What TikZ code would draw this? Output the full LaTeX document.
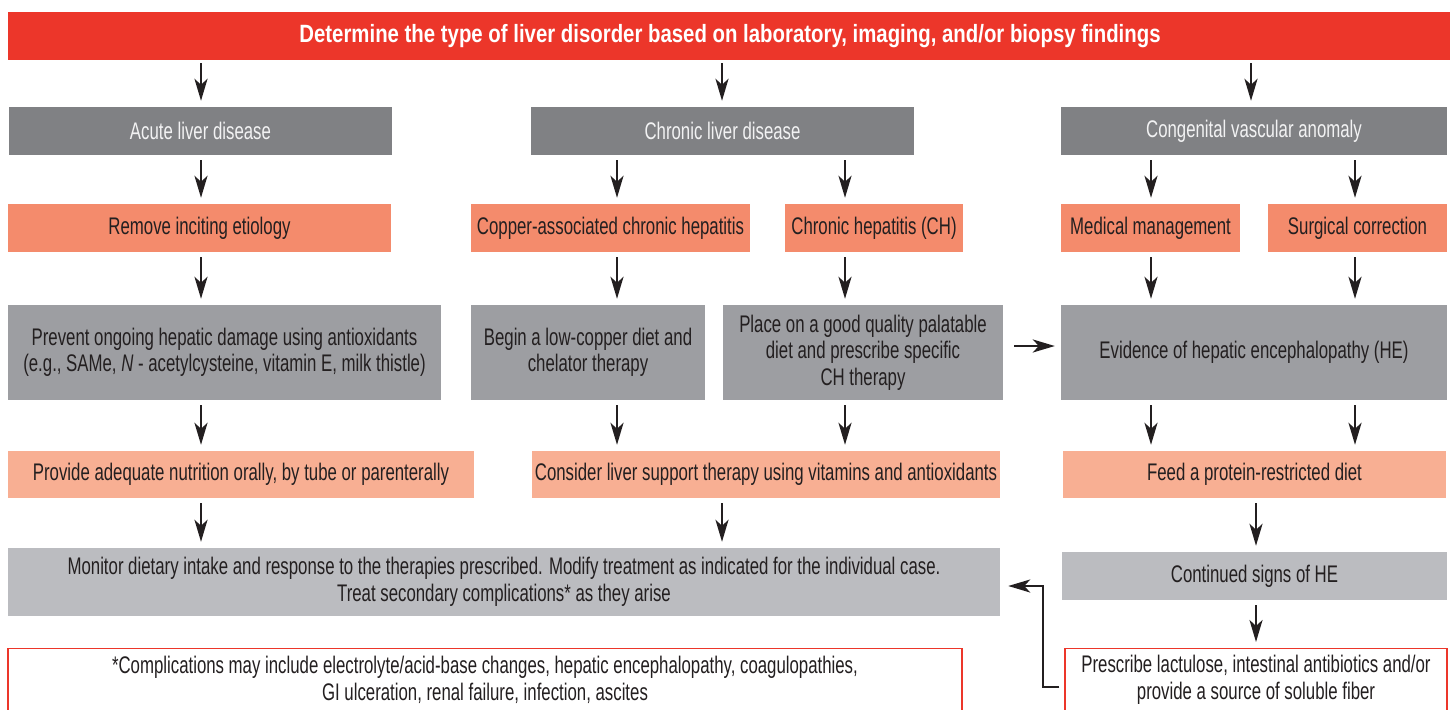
\documentclass[tikz,border=0pt]{standalone}
\usepackage{fontspec}
\setmainfont{Liberation Sans}[FakeStretch=0.70]
\newfontfamily\titlefont{Liberation Sans}[FakeStretch=0.815]
\usetikzlibrary{arrows.meta}
\definecolor{tred}{RGB}{236,54,42}
\definecolor{gone}{RGB}{128,129,132}
\definecolor{sal}{RGB}{244,139,108}
\definecolor{gtwo}{RGB}{157,158,162}
\definecolor{lsal}{RGB}{248,175,147}
\definecolor{gthree}{RGB}{187,188,192}
\definecolor{txt}{RGB}{35,31,32}
\definecolor{wt}{RGB}{242,242,243}
\newcommand{\fsz}{\fontsize{24}{26.5}\selectfont}
\newcommand{\tsz}{\fontsize{25}{28}\selectfont}
\tikzset{
  box/.style={rectangle, inner sep=0pt, align=center, font=\fsz, text=txt},
  rowone/.style={box, fill=gone, text=wt},
  rowtwo/.style={box, fill=sal},
  rowthree/.style={box, fill=gtwo},
  rowfour/.style={box, fill=lsal},
  rowfive/.style={box, fill=gthree},
  note/.style={box, draw=tred, line width=1.3pt, fill=white, anchor=north},
  arr/.style={line width=2.5pt, draw=txt, -{Stealth[length=22pt,width=13pt,inset=6pt]}, shorten <=5pt, shorten >=6pt},
  back/.style={line width=2.5pt, draw=txt, -{Stealth[length=22pt,width=13pt,inset=6pt]}}
}
\begin{document}
\begin{tikzpicture}[x=1pt,y=-1pt]
\clip (0,0) rectangle (1450,709);
\fill[white] (0,0) rectangle (1450,709);
% title
\node[box, fill=tred, text=white, font=\tsz\titlefont\bfseries, minimum width=1444pt, minimum height=48pt] (title) at (730,36) {Determine the type of liver disorder based on laboratory, imaging, and/or biopsy findings};
% row 1
\node[rowone, minimum width=383pt, minimum height=48pt] (acute) at (200.5,131) {Acute liver disease};
\node[rowone, minimum width=383pt, minimum height=48pt] (chronic) at (722.5,131) {Chronic liver disease};
\node[rowone, minimum width=386pt, minimum height=48pt] (congen) at (1254,131) {Congenital vascular anomaly};
% row 2
\node[rowtwo, minimum width=383pt, minimum height=48pt] (remove) at (199.5,228) {Remove inciting etiology};
\node[rowtwo, minimum width=279pt, minimum height=48pt] (copper) at (610.5,228) {Copper-associated chronic hepatitis};
\node[rowtwo, minimum width=178pt, minimum height=48pt] (ch) at (874,228) {Chronic hepatitis (CH)};
\node[rowtwo, minimum width=179pt, minimum height=48pt] (medical) at (1150.5,228) {Medical management};
\node[rowtwo, minimum width=179pt, minimum height=48pt] (surgical) at (1357.5,228) {Surgical correction};
% row 3
\node[rowthree, minimum width=433pt, minimum height=95pt] (prevent) at (224.5,352.5) {Prevent ongoing hepatic damage using antioxidants\\(e.g., SAMe, \textit{N} - acetylcysteine, vitamin E, milk thistle)};
\node[rowthree, minimum width=234pt, minimum height=95pt] (begin) at (588,352.5) {Begin a low-copper diet and\\chelator therapy};
\node[rowthree, minimum width=280pt, minimum height=95pt] (place) at (863,352.5) {Place on a good quality palatable\\diet and prescribe specific\\CH therapy};
\node[rowthree, minimum width=386pt, minimum height=95pt] (evidence) at (1254,352.5) {Evidence of hepatic encephalopathy (HE)};
% row 4
\node[rowfour, minimum width=466pt, minimum height=47pt] (provide) at (241,474.5) {Provide adequate nutrition orally, by tube or parenterally};
\node[rowfour, minimum width=468pt, minimum height=47pt] (consider) at (766,474.5) {Consider liver support therapy using vitamins and antioxidants};
\node[rowfour, minimum width=383pt, minimum height=47pt] (feed) at (1254.5,474.5) {Feed a protein-restricted diet};
% row 5
\node[rowfive, minimum width=992pt, minimum height=68pt] (monitor) at (504,582) {Monitor dietary intake and response to the therapies prescribed. Modify treatment as indicated for the individual case.\\Treat secondary complications* as they arise};
\node[rowfive, minimum width=385pt, minimum height=48pt] (continued) at (1254.5,576) {Continued signs of HE};
% row 6
\node[note, minimum width=954pt, minimum height=62pt] (compl) at (485,648) {*Complications may include electrolyte/acid-base changes, hepatic encephalopathy, coagulopathies,\\GI ulceration, renal failure, infection, ascites};
\node[note, minimum width=382pt, minimum height=62pt] (prescribe) at (1256,648) {Prescribe lactulose, intestinal antibiotics and/or\\provide a source of soluble fiber};
% arrow columns
\coordinate (xa) at (617,0);
\coordinate (xb) at (845,0);
\coordinate (xc) at (1151,0);
\coordinate (xd) at (1355,0);
\coordinate (xe) at (722,0);
\coordinate (xf) at (1256,0);
\coordinate (xg) at (201,0);
\coordinate (xh) at (1251,0);
% arrows
\draw[arr, shorten <=3pt] (xg|-title.south) -- (xg|-acute.north);
\draw[arr, shorten <=3pt] (xe|-title.south) -- (xe|-chronic.north);
\draw[arr, shorten <=3pt] (xh|-title.south) -- (xh|-congen.north);
\draw[arr] (xg|-acute.south) -- (xg|-remove.north);
\draw[arr] (xa|-chronic.south) -- (xa|-copper.north);
\draw[arr] (xb|-chronic.south) -- (xb|-ch.north);
\draw[arr] (xc|-congen.south) -- (xc|-medical.north);
\draw[arr] (xd|-congen.south) -- (xd|-surgical.north);
\draw[arr] (xg|-remove.south) -- (xg|-prevent.north);
\draw[arr] (xa|-copper.south) -- (xa|-begin.north);
\draw[arr] (xb|-ch.south) -- (xb|-place.north);
\draw[arr] (xc|-medical.south) -- (xc|-evidence.north);
\draw[arr] (xd|-surgical.south) -- (xd|-evidence.north);
\draw[arr] (xg|-prevent.south) -- (xg|-provide.north);
\draw[arr] (xa|-begin.south) -- (xa|-consider.north);
\draw[arr] (xb|-place.south) -- (xb|-consider.north);
\draw[arr] (xc|-evidence.south) -- (xc|-feed.north);
\draw[arr] (xd|-evidence.south) -- (xd|-feed.north);
\draw[arr] (xg|-provide.south) -- (xg|-monitor.north);
\draw[arr] (xe|-consider.south) -- (xe|-monitor.north);
\draw[arr] (xf|-feed.south) -- (xf|-continued.north);
\draw[arr] (xf|-continued.south) -- (xf|-prescribe.north);
\draw[arr, shorten <=11pt, shorten >=6pt] (place.east|-0,346) -- (evidence.west|-0,346);
% feedback
\coordinate (fb) at (1043,687);
\draw[back, shorten >=8pt] ([xshift=-5pt]prescribe.west|-fb) -- (fb) -- (fb|-0,586) -- (monitor.east|-0,586);
\end{tikzpicture}
\end{document}
